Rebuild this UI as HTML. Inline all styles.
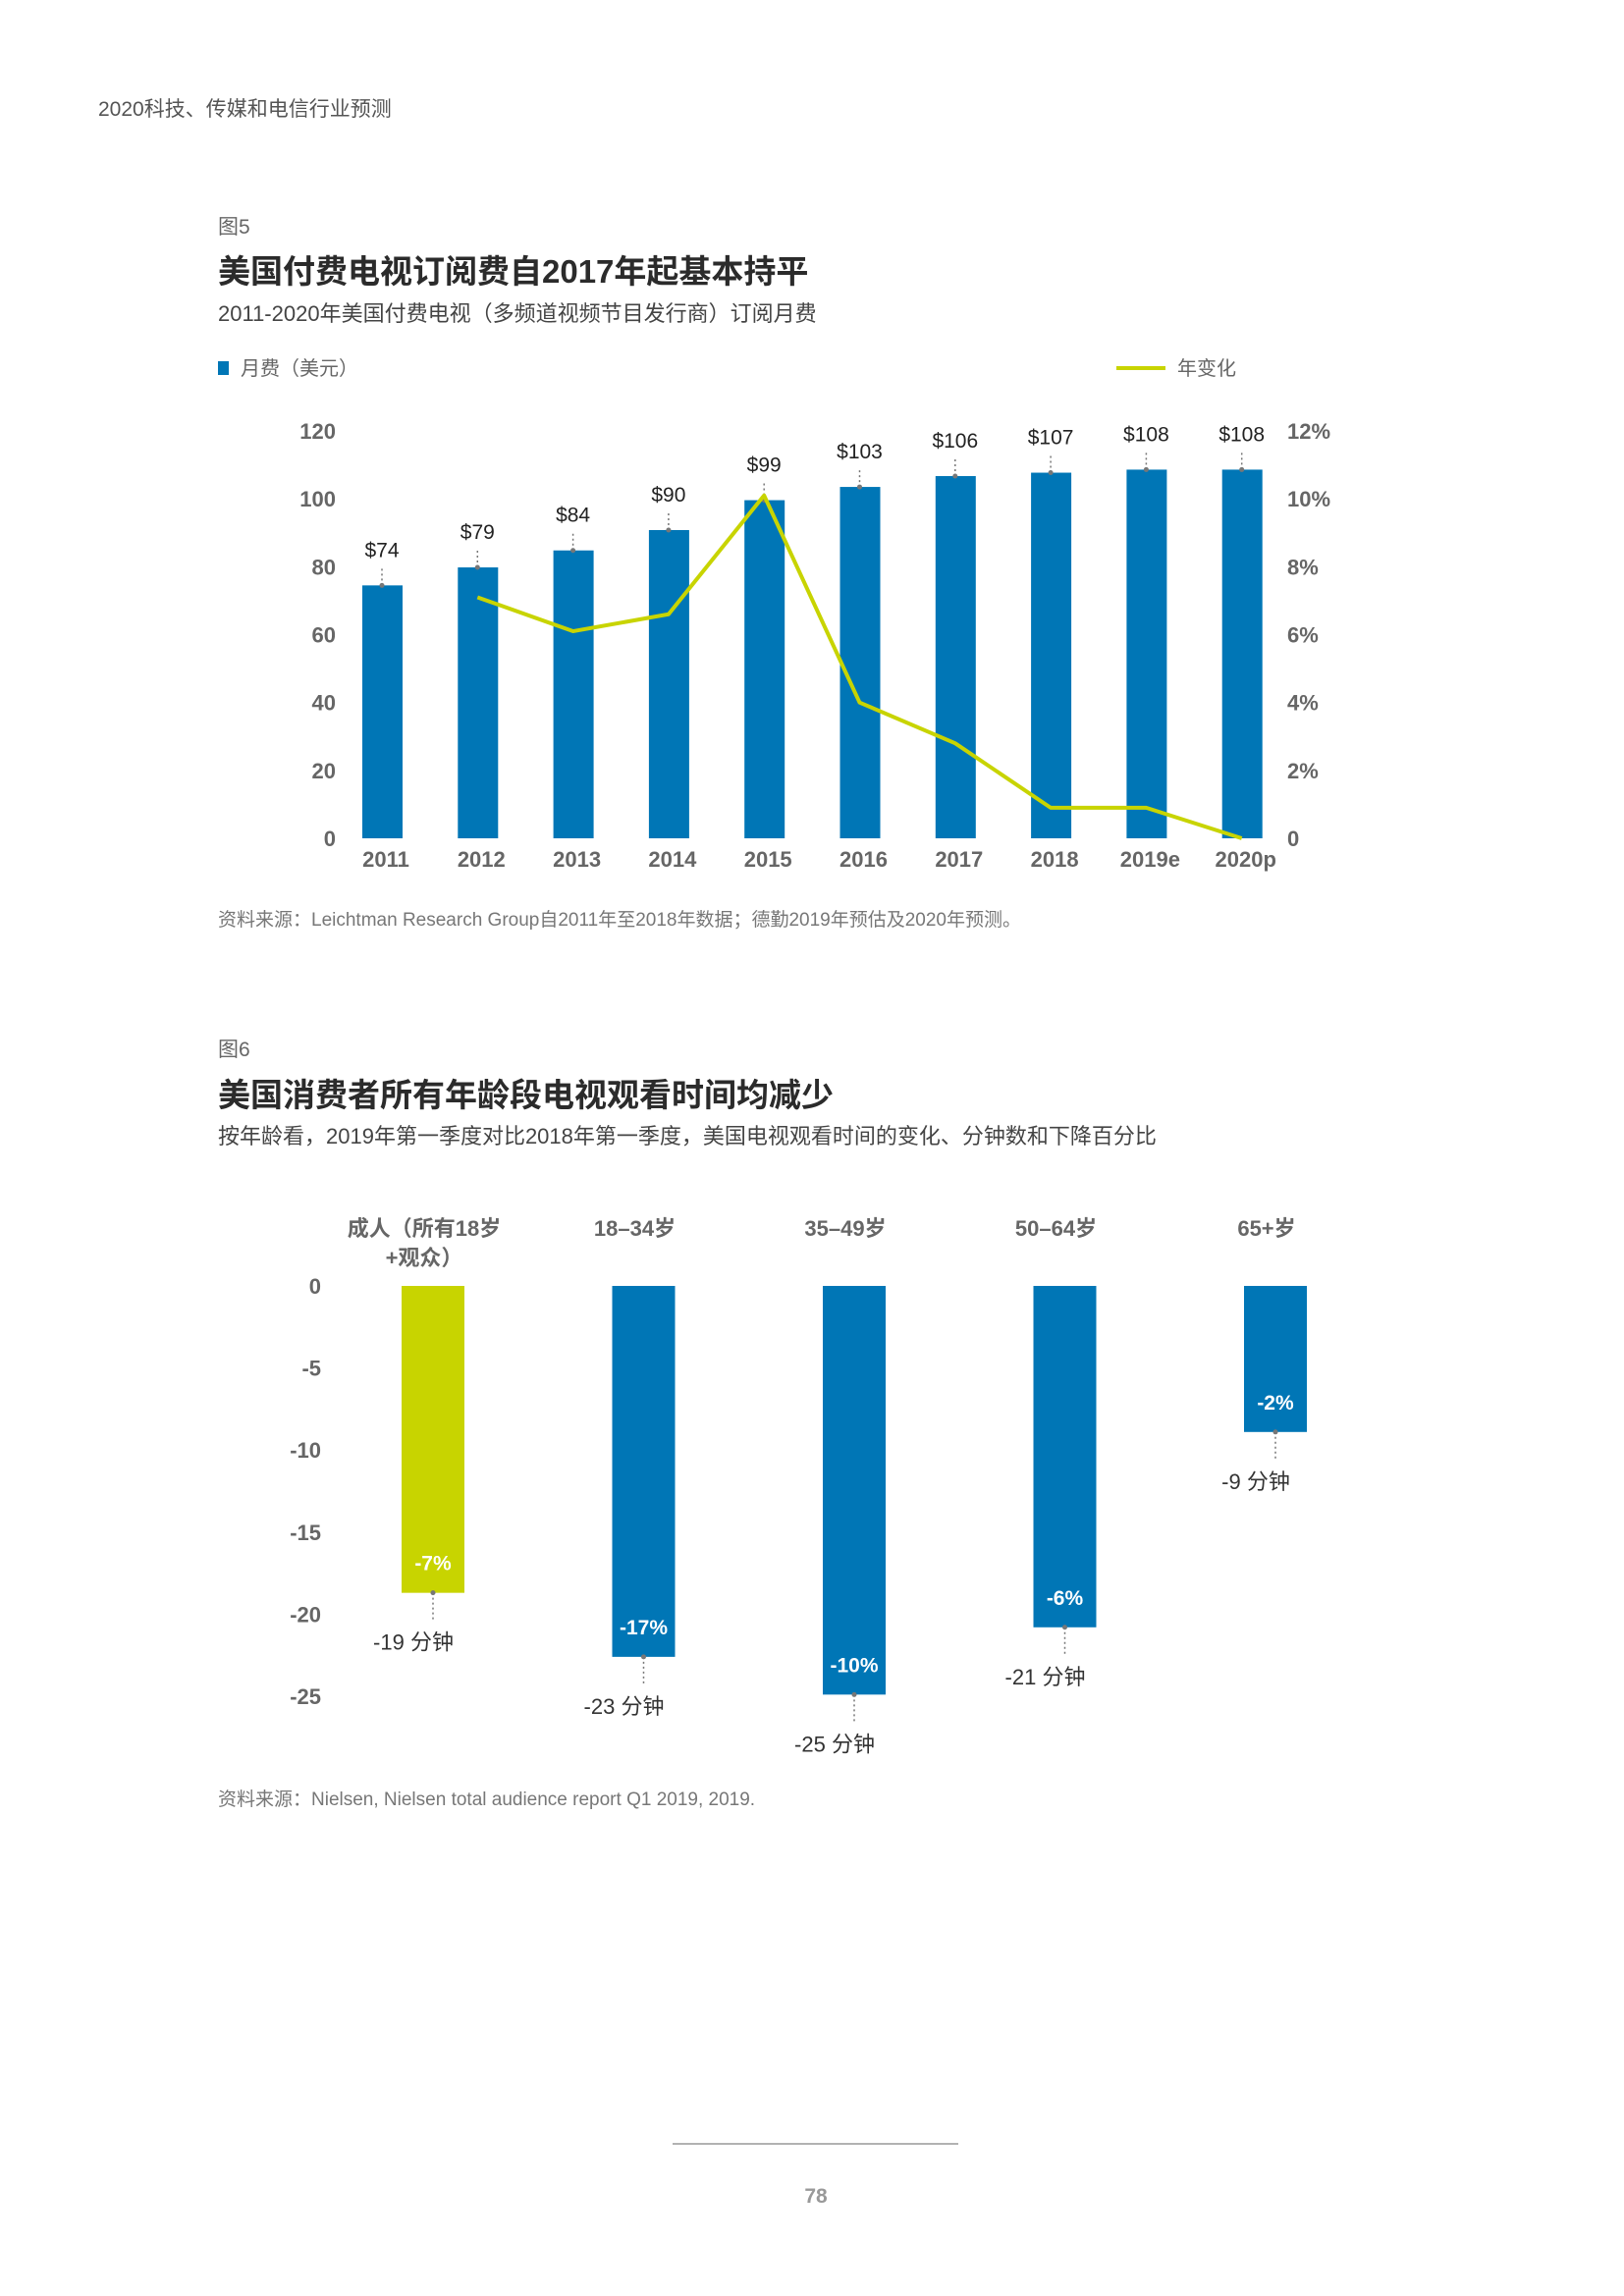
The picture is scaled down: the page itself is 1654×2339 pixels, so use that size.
<!DOCTYPE html>
<html><head><meta charset="utf-8"><style>
html,body{margin:0;padding:0;background:#fff}
svg{display:block;font-family:"Liberation Sans","Noto Sans CJK SC",sans-serif}
</style></head><body>
<svg id="page" width="1654" height="2339" viewBox="0 0 1654 2339" xmlns="http://www.w3.org/2000/svg">
<text x="100" y="118" font-size="21" fill="#555">2020科技、传媒和电信行业预测</text>
<text x="222" y="238" font-size="21" fill="#666">图5</text>
<text x="222" y="288" font-size="33" font-weight="bold" fill="#2b2b2b">美国付费电视订阅费自2017年起基本持平</text>
<text x="222" y="327" font-size="22" fill="#444">2011-2020年美国付费电视（多频道视频节目发行商）订阅月费</text>
<g>
<rect x="222" y="368" width="11" height="14" fill="#0076B6"/>
<text x="245" y="382" font-size="20" fill="#666">月费（美元）</text>
<rect x="1137" y="373" width="50" height="4" fill="#C8D400"/>
<text x="1199" y="382" font-size="20" fill="#666">年变化</text>
</g>
<g id="chart1"></g>
<text x="222" y="943" font-size="19" fill="#777">资料来源：Leichtman Research Group自2011年至2018年数据；德勤2019年预估及2020年预测。</text>

<text x="222" y="1076" font-size="21" fill="#666">图6</text>
<text x="222" y="1127" font-size="33" font-weight="bold" fill="#2b2b2b">美国消费者所有年龄段电视观看时间均减少</text>
<text x="222" y="1165" font-size="22" fill="#444">按年龄看，2019年第一季度对比2018年第一季度，美国电视观看时间的变化、分钟数和下降百分比</text>
<g id="chart2"></g>
<text x="222" y="1839" font-size="19" fill="#777">资料来源：Nielsen, Nielsen total audience report Q1 2019, 2019.</text>

<line x1="685" y1="2184" x2="976" y2="2184" stroke="#999" stroke-width="1.5"/>
<text x="831" y="2244" font-size="21" font-weight="bold" fill="#999" text-anchor="middle">78</text>
</svg>
<script>
const NS="http://www.w3.org/2000/svg";
const years=["2011","2012","2013","2014","2015","2016","2017","2018","2019e","2020p"];
const fees=[74,79,84,90,99,103,106,107,108,108];
const feeLabels=["$74","$79","$84","$90","$99","$103","$106","$107","$108","$108"];
const feeBarValues=[74.5,79.8,84.8,90.8,99.6,103.5,106.7,107.7,108.6,108.6];
const growth=[null,7.1,6.1,6.6,10.1,4.0,2.8,0.9,0.9,0.0];
const leftTicks=[0,20,40,60,80,100,120];
const rightTicks=["0","2%","4%","6%","8%","10%","12%"];

const groups=["成人（所有18岁|+观众）","18–34岁","35–49岁","50–64岁","65+岁"];
const minutes=[-18.7,-22.6,-24.9,-20.8,-8.9];
const minuteLabels=["-19 分钟","-23 分钟","-25 分钟","-21 分钟","-9 分钟"];
const pctLabels=["-7%","-17%","-10%","-6%","-2%"];
const ticks2=[0,-5,-10,-15,-20,-25];

function mk(parent,tag,attrs,text){const e=document.createElementNS(NS,tag);for(const k in attrs)e.setAttribute(k,attrs[k]);if(text!==undefined)e.textContent=text;parent.appendChild(e);return e;}

// chart 1
(function(){
const g=document.getElementById('chart1');
const y=v=>854-v*(415/120);
const yr=p=>854-p*(415/12);
const x=i=>389+i*97.3;
leftTicks.forEach(t=>{const e=mk(g,'text',{x:342,y:y(t)+8,'font-size':22,'font-weight':'bold',fill:'#666','text-anchor':'end'},t);

});
rightTicks.forEach((t,i)=>{const e=mk(g,'text',{x:1311,y:yr(i*2)+8,'font-size':22,'font-weight':'bold',fill:'#666'},t);

});
years.forEach((yy,i)=>{
const b=mk(g,'rect',{x:x(i)-20,y:y(feeBarValues[i]),width:41,height:854-y(feeBarValues[i]),fill:'#0076B6'});


const top=y(feeBarValues[i]);
const d=mk(g,'line',{x1:x(i),y1:top,x2:x(i),y2:top-20,stroke:'#777','stroke-width':1.5,'stroke-dasharray':'2 3'});


const c=mk(g,'circle',{cx:x(i),cy:top,r:2.5,fill:'#777'});


const l=mk(g,'text',{x:x(i),y:top-29,'font-size':21,fill:'#222','text-anchor':'middle'},feeLabels[i]);


const t=mk(g,'text',{x:x(i)+4,y:883,'font-size':22,'font-weight':'bold',fill:'#666','text-anchor':'middle'},yy);


});
let pts=[];growth.forEach((v,i)=>{if(v!==null)pts.push(x(i)+','+yr(v));});
const pl=mk(g,'polyline',{points:pts.join(' '),fill:'none',stroke:'#C8D400','stroke-width':4,'stroke-linejoin':'round'});


})();

// chart 2
(function(){
const g=document.getElementById('chart2');
const y=v=>1310-v*(418/25);
const x=i=>441+i*214.5;
ticks2.forEach(t=>{const e=mk(g,'text',{x:327,y:y(t)+8,'font-size':22,'font-weight':'bold',fill:'#666','text-anchor':'end'},t);

});
groups.forEach((name,i)=>{
const parts=name.split('|');
parts.forEach((p,j)=>{const e=mk(g,'text',{x:x(i)-9,y:1259+j*30,'font-size':22,'font-weight':'bold',fill:'#666','text-anchor':'middle'},p);

});
const bot=y(minutes[i]);
const b=mk(g,'rect',{x:x(i)-32,y:1310,width:64,height:bot-1310,fill:i===0?'#C8D400':'#0076B6'});


const pl=mk(g,'text',{x:x(i),y:bot-23,'font-size':21,'font-weight':'bold',fill:'#fff','text-anchor':'middle'},pctLabels[i]);


const d=mk(g,'line',{x1:x(i),y1:bot,x2:x(i),y2:bot+28,stroke:'#777','stroke-width':1.5,'stroke-dasharray':'2 3'});


const c=mk(g,'circle',{cx:x(i),cy:bot,r:2.5,fill:'#777'});


const ml=mk(g,'text',{x:x(i)-20,y:bot+58,'font-size':22,fill:'#333','text-anchor':'middle'},minuteLabels[i]);


});
})();
</script>
</body></html>
